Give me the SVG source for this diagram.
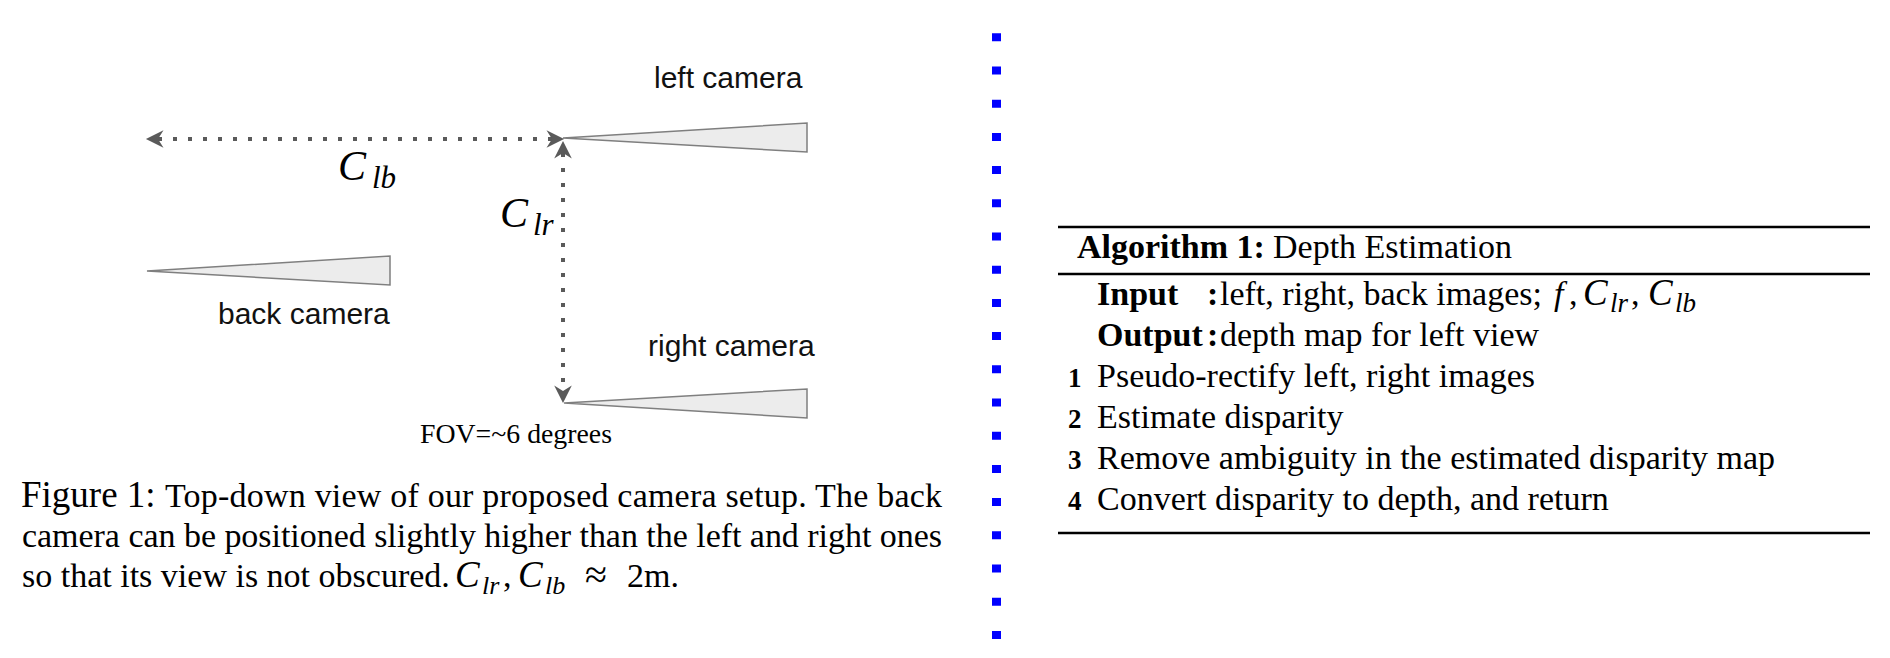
<svg xmlns="http://www.w3.org/2000/svg" width="1890" height="658" viewBox="0 0 1890 658">
<style>
.sans{font-family:"Liberation Sans",Arial,sans-serif;font-size:30px;fill:#111}
.serif{font-family:"Liberation Serif","Times New Roman",serif;fill:#000}
.t{font-size:34px}
.it{font-style:italic}
.bold{font-weight:bold}
.num{font-size:27px;font-weight:bold}
.cam{fill:#ececec;stroke:#7f7f7f;stroke-width:1.5}
.dots{stroke:#5a5a5a;stroke-width:4;stroke-dasharray:4 11;fill:none}
.rule{stroke:#000;stroke-width:2.6}
</style>
<defs>
<marker id="head" markerUnits="userSpaceOnUse" markerWidth="22" markerHeight="22" viewBox="-1 -10 19 20" refX="5" refY="0" orient="auto-start-reverse">
<path d="M0,-8 L16,0 L0,8 L5,0 Z" fill="#5a5a5a"/>
</marker>
</defs>
<rect width="1890" height="658" fill="#fff"/>

<g id="left-camera">
<polygon class="cam" points="563,138 807,123 807,152"/>
<text class="sans" x="654" y="88">left camera</text>
</g>
<g id="back-camera">
<polygon class="cam" points="147,271 390,256 390,285"/>
<text class="sans" x="218" y="324">back camera</text>
</g>
<g id="right-camera">
<polygon class="cam" points="564,403 807,389 807,418"/>
<text class="sans" x="648" y="356">right camera</text>
</g>

<g id="connectors">
<line class="dots" x1="158" y1="139" x2="552" y2="139" marker-start="url(#head)" marker-end="url(#head)"/>
<line class="dots" x1="563" y1="153" x2="563" y2="391" marker-start="url(#head)" marker-end="url(#head)"/>
</g>

<g id="labels">
<text class="serif it" x="338" y="180" style="font-size:42px">C</text>
<text class="serif it" x="372" y="188" style="font-size:31px">lb</text>
<text class="serif it" x="500" y="227" style="font-size:42px">C</text>
<text class="serif it" x="533" y="235" style="font-size:31px">lr</text>
<text class="serif" x="420" y="443" style="font-size:27px" textLength="192" lengthAdjust="spacingAndGlyphs">FOV=~6 degrees</text>
</g>

<g id="caption">
<text class="serif" x="21" y="507" style="font-size:37px">Figure 1:</text>
<text class="serif t" x="165" y="507" textLength="777" lengthAdjust="spacing">Top-down view of our proposed camera setup. The back</text>
<text class="serif t" x="22" y="547" textLength="920" lengthAdjust="spacing">camera can be positioned slightly higher than the left and right ones</text>
<text class="serif t" x="22" y="587">so that its view is not obscured.</text>
<text class="serif it" x="455" y="587" style="font-size:37px">C</text>
<text class="serif it" x="482" y="594" style="font-size:26px">lr</text>
<text class="serif t" x="503" y="587">,</text>
<text class="serif it" x="518" y="587" style="font-size:37px">C</text>
<text class="serif it" x="545" y="594" style="font-size:26px">lb</text>
<text class="serif" x="585" y="588" style="font-size:40px">≈</text>
<text class="serif t" x="627" y="587">2m.</text>
</g>

<g id="separator">
<line x1="996.5" y1="33.3" x2="996.5" y2="640" stroke="#0000ff" stroke-width="9" stroke-dasharray="8 25.2"/>
</g>

<g id="algorithm">
<line class="rule" x1="1058" y1="227" x2="1870" y2="227"/>
<line class="rule" x1="1058" y1="274" x2="1870" y2="274"/>
<line class="rule" x1="1058" y1="533" x2="1870" y2="533"/>
<text class="serif t bold" x="1077" y="258">Algorithm 1:</text>
<text class="serif t" x="1273" y="258">Depth Estimation</text>
<text class="serif t bold" x="1097" y="305">Input</text>
<text class="serif t bold" x="1207" y="305">:</text>
<text class="serif t" x="1220" y="305">left, right, back images;</text>
<text class="serif t it" x="1554" y="305">f</text>
<text class="serif t" x="1569" y="305">,</text>
<text class="serif it" x="1583" y="305" style="font-size:37px">C</text>
<text class="serif it" x="1610" y="312" style="font-size:27px">lr</text>
<text class="serif t" x="1631" y="305">,</text>
<text class="serif it" x="1648" y="305" style="font-size:37px">C</text>
<text class="serif it" x="1675" y="312" style="font-size:27px">lb</text>
<text class="serif t bold" x="1097" y="346">Output</text>
<text class="serif t bold" x="1207" y="346">:</text>
<text class="serif t" x="1220" y="346">depth map for left view</text>
<g class="serif num">
<text x="1068" y="387">1</text>
<text x="1068" y="428">2</text>
<text x="1068" y="469">3</text>
<text x="1068" y="510">4</text>
</g>
<text class="serif t" x="1097" y="387">Pseudo-rectify left, right images</text>
<text class="serif t" x="1097" y="428">Estimate disparity</text>
<text class="serif t" x="1097" y="469">Remove ambiguity in the estimated disparity map</text>
<text class="serif t" x="1097" y="510">Convert disparity to depth, and return</text>
</g>
</svg>
